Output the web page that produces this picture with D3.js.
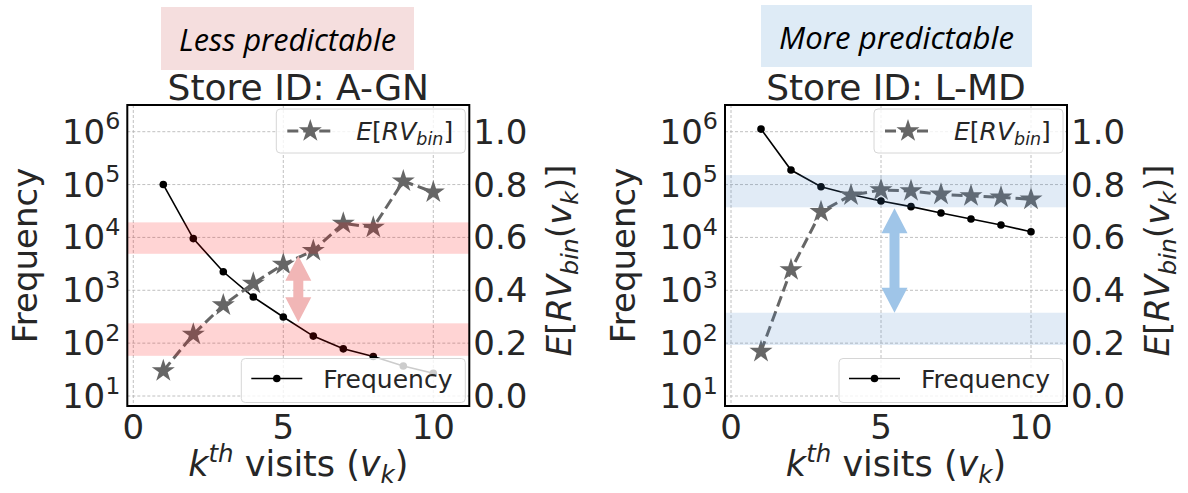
<!DOCTYPE html>
<html><head><meta charset="utf-8">
<script src="https://cdn.jsdelivr.net/npm/d3@7"></script>
<style>
body{margin:0;background:#fff}
svg{display:block}
text{font-family:'DejaVu Sans',sans-serif;fill:#262626}
</style>
</head><body>
<svg id="chart" width="1188" height="493"></svg>
<script>
// k-th visit index
const visits = [1, 2, 3, 4, 5, 6, 7, 8, 9, 10];
// Store A-GN
const freqAGN = [100000, 9500, 2240, 746, 312, 136, 78, 56, 37, 27];
const rvAGN = [0.095, 0.233, 0.344, 0.426, 0.498, 0.550, 0.653, 0.638, 0.813, 0.771];
// Store L-MD
const freqLMD = [1120000, 188000, 91000, 65000, 48900, 38200, 29000, 22300, 17200, 12800];
const rvLMD = [0.168, 0.477, 0.697, 0.760, 0.779, 0.776, 0.763, 0.757, 0.752, 0.744];
// axis ticks
const freqTicks = [1e1, 1e2, 1e3, 1e4, 1e5, 1e6];
const rvTicks = [0, 0.2, 0.4, 0.6, 0.8, 1.0];
const visitTicks = [0, 5, 10];
// highlighted E[RV] ranges and the gap between them
const bandsAGN = [[0.152, 0.275], [0.538, 0.657]];
const bandsLMD = [[0.193, 0.315], [0.714, 0.836]];
const gapAGN = {x: 5.5, from: 0.279, to: 0.531};
const gapLMD = {x: 5.45, from: 0.315, to: 0.710};
const headings = ["Less predictable", "More predictable"];
const storeIds = ["A-GN", "L-MD"];

const panels = [
  {left: 127.3, freq: freqAGN, rv: rvAGN, bands: bandsAGN, gap: gapAGN,
   heading: headings[0], store: storeIds[0],
   band: "rgba(255,0,0,0.17)", arrow: "#f1b6b6", tag: "#f5dede",
   tagBox: [161, 7, 253, 63]},
  {left: 725, freq: freqLMD, rv: rvLMD, bands: bandsLMD, gap: gapLMD,
   heading: headings[1], store: storeIds[1],
   band: "rgba(70,130,200,0.16)", arrow: "#9fc5e8", tag: "#deebf6",
   tagBox: [761, 5, 271, 62]}
];

const svg = d3.select("#chart");
const W = 342, plotTop = 105, plotBottom = 406;
const FS = 34;

function sup(sel, base, exp) {
  sel.append("tspan").text(base);
  sel.append("tspan").attr("dy", -0.42 * FS).attr("font-size", FS * 0.7).text(exp);
}

panels.forEach(p => {
  const g = svg.append("g");
  const x = d3.scaleLinear().domain([-0.2, 11.2]).range([p.left, p.left + W]);
  const yF = d3.scaleLog().domain([Math.pow(10, 0.811), Math.pow(10, 6.505)]).range([plotBottom, plotTop]);
  const yR = d3.scaleLinear().domain([-0.0378, 1.101]).range([plotBottom, plotTop]);
  const right = p.left + W;

  // heading tag
  g.append("rect").attr("x", p.tagBox[0]).attr("y", p.tagBox[1])
    .attr("width", p.tagBox[2]).attr("height", p.tagBox[3]).attr("fill", p.tag);
  const ht = g.append("text").attr("x", p.tagBox[0] + p.tagBox[2] / 2).attr("y", p.tagBox[1] + 44)
    .attr("text-anchor", "middle").style("font-family", "'Open Sans',sans-serif")
    .style("font-style", "italic").style("fill", "#000").attr("font-size", 30).text(p.heading);
  const target = p.tagBox[2] - 36;
  const len = ht.node().getComputedTextLength();
  ht.attr("font-size", 30 * target / len);

  // title
  g.append("text").attr("x", (p.left + right) / 2).attr("y", 100).attr("text-anchor", "middle")
    .attr("font-size", 36).text("Store ID: " + p.store);

  // grid
  g.selectAll(".gy").data(freqTicks).join("line")
    .attr("x1", p.left).attr("x2", right).attr("y1", d => yF(d)).attr("y2", d => yF(d))
    .attr("stroke", "#b0b0b0").attr("stroke-width", 0.8).attr("stroke-dasharray", "3,2");
  g.selectAll(".gx").data(visitTicks).join("line")
    .attr("x1", d => x(d)).attr("x2", d => x(d)).attr("y1", plotTop).attr("y2", plotBottom)
    .attr("stroke", "#b0b0b0").attr("stroke-width", 0.8).attr("stroke-dasharray", "3,2");

  // frequency line
  const lf = d3.line().x((d, i) => x(visits[i])).y(d => yF(d));
  g.append("path").attr("d", lf(p.freq)).attr("fill", "none").attr("stroke", "#000").attr("stroke-width", 1.6);
  g.selectAll(".fd").data(p.freq).join("circle")
    .attr("cx", (d, i) => x(visits[i])).attr("cy", d => yF(d)).attr("r", 3.8).attr("fill", "#000");

  // E[RV] line
  const lr = d3.line().x((d, i) => x(visits[i])).y(d => yR(d));
  g.append("path").attr("d", lr(p.rv)).attr("fill", "none").attr("stroke", "#666")
    .attr("stroke-width", 3).attr("stroke-dasharray", "11,5");
  const star = d3.symbol().type(d3.symbolStar).size(165);
  g.selectAll(".st").data(p.rv).join("path").attr("d", star)
    .attr("transform", (d, i) => `translate(${x(visits[i])},${yR(d)})`).attr("fill", "#666");

  // bands
  g.selectAll(".bd").data(p.bands).join("rect")
    .attr("x", p.left).attr("width", W).attr("y", d => yR(d[1])).attr("height", d => yR(d[0]) - yR(d[1]))
    .attr("fill", p.band);

  // double arrow showing the gap
  const ax = x(p.gap.x), ay0 = yR(p.gap.to), ay1 = yR(p.gap.from);
  const hw = 13, sw = 5, hl = 25;
  const pts = [[ax, ay0], [ax + hw, ay0 + hl], [ax + sw, ay0 + hl], [ax + sw, ay1 - hl], [ax + hw, ay1 - hl],
    [ax, ay1], [ax - hw, ay1 - hl], [ax - sw, ay1 - hl], [ax - sw, ay0 + hl], [ax - hw, ay0 + hl]];
  g.append("path").attr("d", "M" + pts.join("L") + "Z").attr("fill", p.arrow);

  // frame
  g.append("rect").attr("x", p.left).attr("y", plotTop).attr("width", W).attr("height", plotBottom - plotTop)
    .attr("fill", "none").attr("stroke", "#000").attr("stroke-width", 2);

  // left ticks
  freqTicks.forEach(t => {
    const tx = g.append("text").attr("x", p.left - 7).attr("y", yF(t) + 12).attr("text-anchor", "end").attr("font-size", FS);
    sup(tx, "10", Math.round(Math.log10(t)));
  });
  // right ticks
  g.selectAll(".rt").data(rvTicks).join("text").attr("x", right + 4).attr("y", d => yR(d) + 12)
    .attr("font-size", FS).text(d => d.toFixed(1));
  // bottom ticks
  g.selectAll(".bt").data(visitTicks).join("text").attr("x", d => x(d)).attr("y", 439)
    .attr("text-anchor", "middle").attr("font-size", FS).text(d => d);

  // axis labels
  g.append("text").attr("transform", `translate(${p.left - 90},${(plotTop + plotBottom) / 2}) rotate(-90)`)
    .attr("text-anchor", "middle").attr("font-size", FS).text("Frequency");
  const rl = g.append("text").attr("transform", `translate(${right + 102},${(plotTop + plotBottom) / 2 + 5}) rotate(-90)`)
    .attr("text-anchor", "middle").attr("font-size", FS);
  rl.append("tspan").attr("font-style", "italic").text("E");
  rl.append("tspan").text("[");
  rl.append("tspan").attr("font-style", "italic").text("RV");
  rl.append("tspan").attr("font-style", "italic").attr("font-size", FS * 0.7).attr("dy", 7).text("bin");
  rl.append("tspan").attr("dy", -7).text("(");
  rl.append("tspan").attr("font-style", "italic").text("v");
  rl.append("tspan").attr("font-style", "italic").attr("font-size", FS * 0.7).attr("dy", 7).text("k");
  rl.append("tspan").attr("dy", -7).text(")]");

  const XF = 35;
  const xl = g.append("text").attr("x", (p.left + right) / 2).attr("y", 476).attr("text-anchor", "middle").attr("font-size", XF);
  xl.append("tspan").attr("font-style", "italic").text("k");
  xl.append("tspan").attr("font-style", "italic").attr("font-size", XF * 0.7).attr("dy", -14).text("th");
  xl.append("tspan").attr("dy", 14).text(" visits (");
  xl.append("tspan").attr("font-style", "italic").text("v");
  xl.append("tspan").attr("font-style", "italic").attr("font-size", XF * 0.7).attr("dy", 7).text("k");
  xl.append("tspan").attr("dy", -7).text(")");

  // legend: E[RV]
  const L1 = {x: right - 193, y: 109, w: 189, h: 44};
  g.append("rect").attr("x", L1.x).attr("y", L1.y).attr("width", L1.w).attr("height", L1.h).attr("rx", 4)
    .attr("fill", "rgba(255,255,255,0.8)").attr("stroke", "#d6d6d6");
  const ly1 = L1.y + 22;
  g.append("line").attr("x1", L1.x + 11).attr("x2", L1.x + 59).attr("y1", ly1).attr("y2", ly1)
    .attr("stroke", "#666").attr("stroke-width", 3).attr("stroke-dasharray", "11,5");
  g.append("path").attr("d", star).attr("transform", `translate(${L1.x + 34},${ly1})`).attr("fill", "#666");
  const lt1 = g.append("text").attr("x", L1.x + 80).attr("y", ly1 + 9).attr("font-size", 25);
  lt1.append("tspan").attr("font-style", "italic").text("E");
  lt1.append("tspan").text("[");
  lt1.append("tspan").attr("font-style", "italic").text("RV");
  lt1.append("tspan").attr("font-style", "italic").attr("font-size", 17.5).attr("dy", 5).text("bin");
  lt1.append("tspan").attr("dy", -5).text("]");

  // legend: Frequency
  const L2 = {x: right - 228, y: 358.5, w: 224, h: 44};
  g.append("rect").attr("x", L2.x).attr("y", L2.y).attr("width", L2.w).attr("height", L2.h).attr("rx", 4)
    .attr("fill", "rgba(255,255,255,0.8)").attr("stroke", "#d6d6d6");
  const ly2 = L2.y + 20;
  g.append("line").attr("x1", L2.x + 10).attr("x2", L2.x + 61).attr("y1", ly2).attr("y2", ly2)
    .attr("stroke", "#000").attr("stroke-width", 1.6);
  g.append("circle").attr("cx", L2.x + 35.5).attr("cy", ly2).attr("r", 3.8).attr("fill", "#000");
  g.append("text").attr("x", L2.x + 82).attr("y", ly2 + 9).attr("font-size", 25).text("Frequency");
});
</script>
</body></html>
